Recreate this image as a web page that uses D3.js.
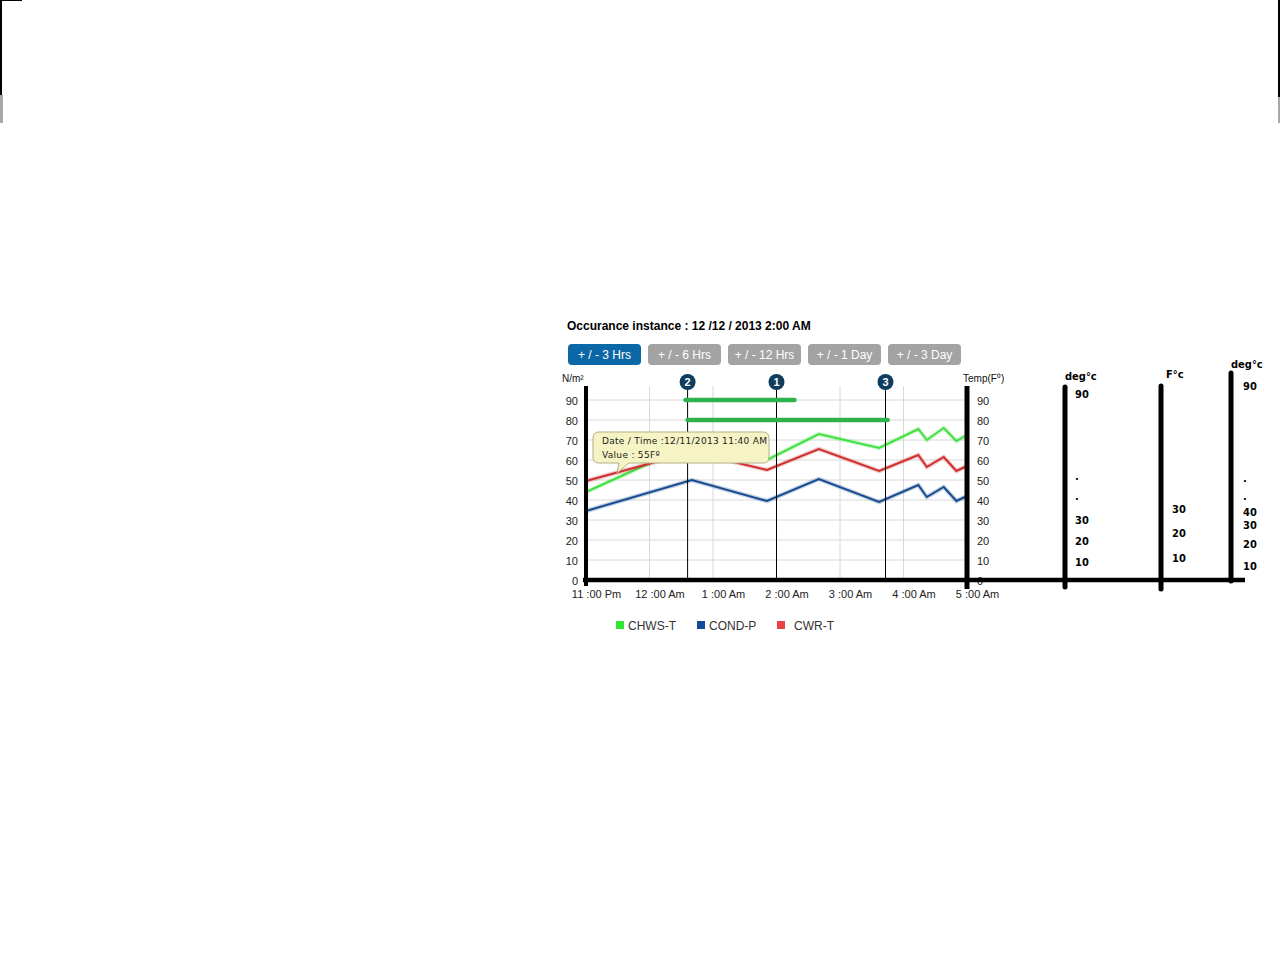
<!DOCTYPE html>
<html>
<head>
<meta charset="utf-8">
<script src="https://cdn.jsdelivr.net/npm/d3@7"></script>
<style>
  html, body { margin: 0; padding: 0; background: #fff; }
  svg { display: block; }
</style>
</head>
<body>
<script>
// chart data
const times = ["2013-12-11 23:00", "2013-12-12 00:40", "2013-12-12 01:51", "2013-12-12 02:40", "2013-12-12 03:37",
  "2013-12-12 04:14", "2013-12-12 04:22", "2013-12-12 04:38", "2013-12-12 04:50", "2013-12-12 05:00"];
const chwsT = [44, 68, 60, 73, 66, 75.5, 70, 76, 69.5, 72.5];
const condP = [34.5, 50, 39.5, 50.5, 39, 47.5, 41.5, 46.5, 39.5, 42];
const cwrT = [49.5, 64, 55, 65.5, 54.5, 62.5, 56.5, 61.5, 54.5, 57];

const seriesNames = ["CHWS-T", "COND-P", "CWR-T"];
const seriesColors = ["#3fe03f", "#174b8e", "#cf2f2f"];
const legendColors = ["#33e533", "#124a99", "#e84444"];

const xTicks = ["2013-12-11 23:00", "2013-12-12 00:00", "2013-12-12 01:00", "2013-12-12 02:00",
  "2013-12-12 03:00", "2013-12-12 04:00", "2013-12-12 05:00"];
const xLabels = ["11 :00 Pm", "12 :00 Am", "1 :00 Am", "2 :00 Am", "3 :00 Am", "4 :00 Am", "5 :00 Am"];
const yTicks = [0, 10, 20, 30, 40, 50, 60, 70, 80, 90];

const markerIds = ["2", "1", "3"];
const markerTimes = ["2013-12-12 00:36", "2013-12-12 02:00", "2013-12-12 03:43"];

const rangeStarts = ["2013-12-12 00:34", "2013-12-12 00:36"];
const rangeEnds = ["2013-12-12 02:17", "2013-12-12 03:45"];
const rangeValues = [90, 80];

const buttonLabels = ["+ / - 3 Hrs", "+ / - 6 Hrs", "+ / - 12 Hrs", "+ / - 1 Day", "+ / - 3 Day"];
const activeButton = 0;

const titleText = "Occurance instance : 12 /12 / 2013 2:00 AM";
const tooltipLines = ["Date / Time :12/11/2013 11:40 AM", "Value : 55F\u00ba"];

// hand drawn extra axes on the right
const degC1Values = [90, 51, 41.5, 30, 20, 10];
const degC1Text = ["90", ".", ".", "30", "20", "10"];
const fcValues = [30, 20, 10];
const fcText = ["30", "20", "10"];
const degC2Values = [90, 53.5, 46.5, 40, 30, 20, 10];
const degC2Text = ["90", ".", ".", "40", "30", "20", "10"];

// layout
const width = 1280;
const height = 960;
const plot = {left: 586, right: 967, top: 386, bottom: 580};

const parse = d3.timeParse("%Y-%m-%d %H:%M");
const font = "'Liberation Sans', Arial, sans-serif";

const svg = d3.select("body").append("svg")
  .attr("width", width)
  .attr("height", height);

// page edge bits
svg.append("rect").attr("x", 0).attr("y", 0).attr("width", 2).attr("height", 95).attr("fill", "#000");
svg.append("rect").attr("x", 0).attr("y", 95).attr("width", 3).attr("height", 28).attr("fill", "#a8a8a8");
svg.append("rect").attr("x", 0).attr("y", 0).attr("width", 22).attr("height", 1).attr("fill", "#000");
svg.append("rect").attr("x", 1278).attr("y", 0).attr("width", 2).attr("height", 97).attr("fill", "#000");
svg.append("rect").attr("x", 1278).attr("y", 97).attr("width", 2).attr("height", 26).attr("fill", "#a8a8a8");

const x = d3.scaleTime()
  .domain([parse(xTicks[0]), parse(xTicks[xTicks.length - 1])])
  .range([plot.left, plot.right]);

const y = d3.scaleLinear()
  .domain([0, 90])
  .range([plot.bottom, plot.bottom - 180]);

// title
svg.append("text")
  .attr("x", 567).attr("y", 330)
  .attr("font-family", font).attr("font-size", 12).attr("font-weight", "bold")
  .attr("fill", "#000")
  .text(titleText);

// range buttons
const btn = svg.append("g").attr("transform", "translate(568,344)")
  .selectAll("g")
  .data(buttonLabels)
  .enter().append("g")
  .attr("transform", (d, i) => `translate(${i * 80},0)`);

btn.append("rect")
  .attr("width", 73).attr("height", 21).attr("rx", 4)
  .attr("fill", (d, i) => i === activeButton ? "#0c67a6" : "#a3a3a3");

btn.append("text")
  .attr("x", 36.5).attr("y", 14.5)
  .attr("text-anchor", "middle")
  .attr("font-family", font).attr("font-size", 12)
  .attr("fill", "#fff")
  .text(d => d);

// grid
const grid = svg.append("g");
grid.selectAll("line.h")
  .data(yTicks.slice(1))
  .enter().append("line")
  .attr("x1", plot.left).attr("x2", plot.right)
  .attr("y1", d => y(d)).attr("y2", d => y(d))
  .attr("stroke", "#d8d8d8").attr("stroke-width", 1);

grid.selectAll("line.v")
  .data(xTicks.slice(1, -1))
  .enter().append("line")
  .attr("x1", d => x(parse(d))).attr("x2", d => x(parse(d)))
  .attr("y1", plot.top).attr("y2", plot.bottom)
  .attr("stroke", "#d8d8d8").attr("stroke-width", 1);

// y axes
const yLeft = svg.append("g")
  .attr("transform", `translate(${plot.left},1)`)
  .call(d3.axisLeft(y).tickValues(yTicks).tickSize(0).tickPadding(8));
yLeft.select(".domain").remove();

const yRight = svg.append("g")
  .attr("transform", `translate(${plot.right},1)`)
  .call(d3.axisRight(y).tickValues(yTicks).tickSize(0).tickPadding(10));
yRight.select(".domain").remove();

svg.selectAll(".tick text")
  .attr("font-family", font).attr("font-size", 11).attr("fill", "#222");

// x axis
const xAxis = svg.append("g")
  .attr("transform", `translate(0,${plot.bottom + 2})`)
  .call(d3.axisBottom(x)
    .tickValues(xTicks.map(parse))
    .tickSize(0)
    .tickPadding(8)
    .tickFormat((d, i) => xLabels[i]));
xAxis.select(".domain").remove();
xAxis.selectAll("text")
  .attr("dx", 10)
  .attr("font-family", font).attr("font-size", 11).attr("fill", "#222");

svg.append("text").attr("x", 562).attr("y", 382)
  .attr("font-family", font).attr("font-size", 10).attr("fill", "#111")
  .text("N/m\u00b2");
svg.append("text").attr("x", 963).attr("y", 382)
  .attr("font-family", font).attr("font-size", 10).attr("fill", "#111")
  .text("Temp(F\u2070)");

// series lines
const series = [chwsT, condP, cwrT];
const line = d3.line()
  .x((d, i) => x(parse(times[i])))
  .y(d => y(d));

series.forEach((values, k) => {
  svg.append("path")
    .datum(values)
    .attr("fill", "none")
    .attr("stroke", seriesColors[k])
    .attr("stroke-opacity", 0.25)
    .attr("stroke-width", 4.5)
    .attr("stroke-linejoin", "miter")
    .attr("d", line);
  svg.append("path")
    .datum(values)
    .attr("fill", "none")
    .attr("stroke", seriesColors[k])
    .attr("stroke-width", 2)
    .attr("stroke-linejoin", "miter")
    .attr("d", line);
});

// event markers
svg.selectAll("line.marker")
  .data(markerTimes)
  .enter().append("line")
  .attr("x1", d => x(parse(d))).attr("x2", d => x(parse(d)))
  .attr("y1", 388).attr("y2", plot.bottom)
  .attr("stroke", "#000").attr("stroke-width", 1);

const mk = svg.selectAll("g.marker")
  .data(markerTimes)
  .enter().append("g")
  .attr("transform", d => `translate(${x(parse(d))},382)`);
mk.append("circle").attr("r", 8).attr("fill", "#0f3d5e");
mk.append("text")
  .attr("y", 4).attr("text-anchor", "middle")
  .attr("font-family", font).attr("font-size", 11).attr("font-weight", "bold")
  .attr("fill", "#fff")
  .text((d, i) => markerIds[i]);

// duration bars
svg.selectAll("line.range")
  .data(rangeValues)
  .enter().append("line")
  .attr("x1", (d, i) => x(parse(rangeStarts[i])))
  .attr("x2", (d, i) => x(parse(rangeEnds[i])))
  .attr("y1", d => y(d)).attr("y2", d => y(d))
  .attr("stroke", "#2eb24c").attr("stroke-width", 4.5)
  .attr("stroke-linecap", "round");

// thick axis lines
svg.append("line").attr("x1", plot.left).attr("x2", plot.left)
  .attr("y1", plot.top).attr("y2", plot.bottom + 6)
  .attr("stroke", "#000").attr("stroke-width", 4);
svg.append("line").attr("x1", plot.right).attr("x2", plot.right)
  .attr("y1", plot.top).attr("y2", plot.bottom + 9)
  .attr("stroke", "#000").attr("stroke-width", 5);
svg.append("line").attr("x1", plot.left - 3).attr("x2", 1245)
  .attr("y1", plot.bottom).attr("y2", plot.bottom)
  .attr("stroke", "#000").attr("stroke-width", 4.5);

// tooltip
const tip = svg.append("g").attr("transform", "translate(593,432)");
tip.append("path")
  .attr("d", "M6,0 H170 Q176,0 176,6 V25 Q176,31 170,31 H36 L24,41 L26,31 H6 Q0,31 0,25 V6 Q0,0 6,0 Z")
  .attr("fill", "#f6f4c4")
  .attr("stroke", "#b3b08a").attr("stroke-width", 1);
tip.selectAll("text")
  .data(tooltipLines)
  .enter().append("text")
  .attr("x", 9).attr("y", (d, i) => 12 + i * 14)
  .attr("font-family", "'DejaVu Sans', Verdana, sans-serif")
  .attr("font-size", 9).attr("letter-spacing", 0.3).attr("fill", "#222")
  .text(d => d);

// legend
const leg = svg.append("g").attr("transform", "translate(616,620)")
  .selectAll("g")
  .data(seriesNames)
  .enter().append("g")
  .attr("transform", (d, i) => `translate(${[0, 81, 161][i]},0)`);
leg.append("rect").attr("width", 8).attr("height", 8).attr("y", 1)
  .attr("fill", (d, i) => legendColors[i]);
leg.append("text")
  .attr("x", (d, i) => i === 2 ? 17 : 12).attr("y", 9.5)
  .attr("font-family", font).attr("font-size", 12).attr("fill", "#333")
  .text(d => d);

// hand drawn extra axes
const narrow = "'Liberation Sans Narrow', 'DejaVu Sans Condensed', sans-serif";
function mockAxis(ax, top, bottom, title, titleX, titleY, scale, values, texts, dx) {
  svg.append("line").attr("x1", ax).attr("x2", ax)
    .attr("y1", top).attr("y2", bottom)
    .attr("stroke", "#000").attr("stroke-width", 5).attr("stroke-linecap", "round");
  svg.append("text").attr("x", titleX).attr("y", titleY)
    .attr("font-family", narrow).attr("font-size", 11).attr("font-weight", "bold")
    .attr("fill", "#000")
    .text(title);
  svg.append("g").selectAll("text")
    .data(values)
    .enter().append("text")
    .attr("x", ax + dx)
    .attr("y", d => scale(d) + 4)
    .attr("font-family", narrow).attr("font-size", 11).attr("font-weight", "bold")
    .attr("fill", "#000")
    .text((d, i) => texts[i]);
}

mockAxis(1065, 387, 587, "deg\u00b0c", 1065, 380,
  d3.scaleLinear().domain([0, 90]).range([583, 394]), degC1Values, degC1Text, 10);
mockAxis(1161, 386, 589, "F\u00b0c", 1166, 378,
  d3.scaleLinear().domain([0, 30]).range([582, 509]), fcValues, fcText, 11);
mockAxis(1231, 373, 581, "deg\u00b0c", 1231, 368,
  d3.scaleLinear().domain([10, 20, 30, 40, 90]).range([566, 544, 525, 512, 386]), degC2Values, degC2Text, 12);
</script>
</body>
</html>
